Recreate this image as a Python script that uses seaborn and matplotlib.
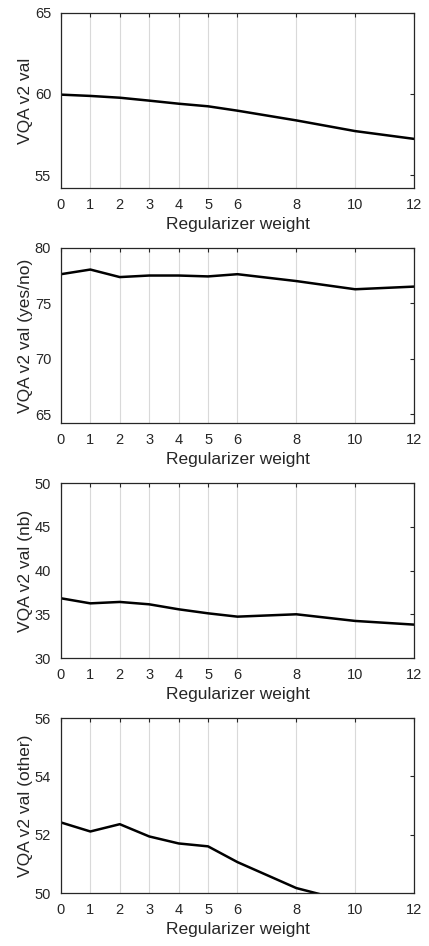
import numpy as np
import pandas as pd
import matplotlib
matplotlib.use('Agg')
import matplotlib.pyplot as plt
import seaborn as sns

sns.set_style(style="white")
plt.rcParams['font.family'] = ['Liberation Sans', 'DejaVu Sans']
plt.rc('font', size=10)
plt.rc('xtick', direction='in')
plt.rc('ytick', direction='in')

weights = [0, 1, 2, 3, 4, 5, 6, 8, 10, 12]
overall = [59.96, 59.88, 59.77, 59.59, 59.40, 59.24, 58.97, 58.37, 57.71, 57.23]
yes_no = [77.63, 78.05, 77.37, 77.51, 77.51, 77.43, 77.63, 77.01, 76.27, 76.51]
number = [36.83, 36.25, 36.41, 36.14, 35.57, 35.11, 34.73, 35.00, 34.24, 33.82]
other = [52.42, 52.11, 52.36, 51.94, 51.70, 51.60, 51.06, 50.17, 49.65, 49.20]

panels = [
    (overall, 'VQA v2 val', (54.2, 65), [55, 60, 65]),
    (yes_no, 'VQA v2 val (yes/no)', (64.2, 80), [65, 70, 75, 80]),
    (number, 'VQA v2 val (nb)', (30, 50), [30, 35, 40, 45, 50]),
    (other, 'VQA v2 val (other)', (50, 56), [50, 52, 54, 56]),
]

bottoms = [0.8013, 0.5529, 0.3044, 0.056]

fig = plt.figure(figsize=(4.29, 9.46), dpi=100)
for (vals, ylab, ylim, yticks), b in zip(panels, bottoms):
    ax = fig.add_axes([0.142, b, 0.823, 0.185])
    df = pd.DataFrame({'w': weights, 'acc': vals})
    sns.lineplot(data=df, x='w', y='acc', ax=ax, color='black', linewidth=1.8)
    ax.set_xlim(0, 12)
    ax.set_ylim(*ylim)
    ax.set_xticks(weights)
    ax.set_yticks(yticks)
    ax.xaxis.grid(True, color='#d9d9d9', linewidth=0.8)
    ax.yaxis.grid(False)
    ax.tick_params(top=True, right=True, length=3, width=0.8, colors='#262626',
                   labelsize=10.5, pad=7)
    for s in ax.spines.values():
        s.set_color('#262626')
        s.set_linewidth(0.9)
    ax.set_xlabel('Regularizer weight', color='#262626', fontsize=12.5, labelpad=4)
    ax.set_ylabel(ylab, color='#262626', fontsize=12.5, labelpad=1)

plt.savefig('out.png', dpi=100)
